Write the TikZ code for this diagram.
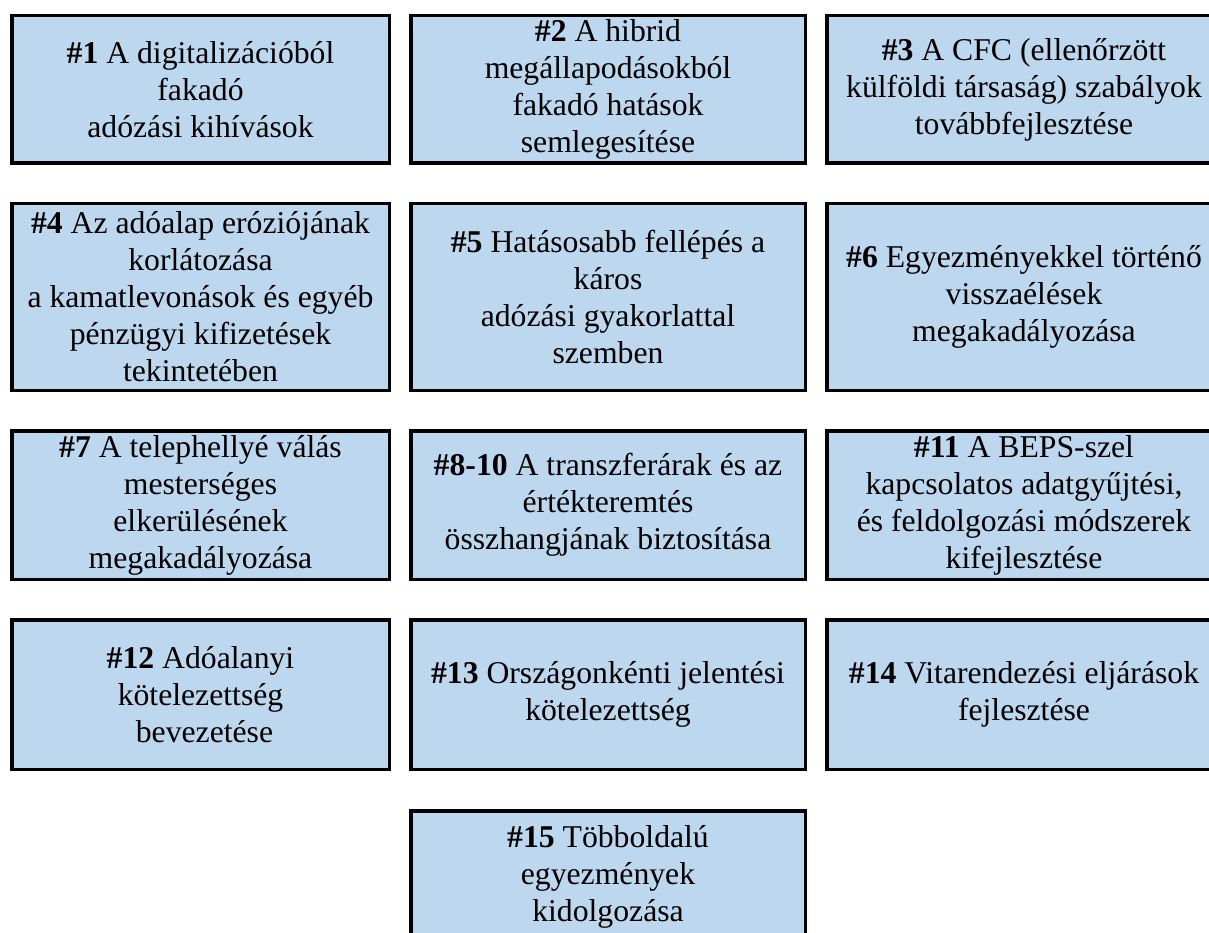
\documentclass[tikz,border=0pt]{standalone}
\usepackage{fontspec}
\setmainfont{Liberation Serif}
\definecolor{boxblue}{RGB}{189,215,238}
\begin{document}
\begin{tikzpicture}[x=1pt,y=-1pt,
  box/.style={draw=black, fill=boxblue, line width=3.5pt, align=center,
    inner sep=0pt, outer sep=0pt,
    font=\fontsize{31.7}{37}\selectfont},
  c1/.style={minimum width=377.5pt},
  c2/.style={minimum width=394.5pt},
  r1/.style={minimum height=147.5pt},
  r2/.style={minimum height=186.5pt},
  r3/.style={minimum height=148.5pt},
  r4/.style={minimum height=149.5pt},
  r5/.style={minimum height=132.5pt}]
\clip (0,0) rectangle (1209,933);
% row 1
\node[box,c1,r1] (b1) at (200.5,89.5) {\textbf{\#1} A digitalizációból\\fakadó\\adózási kihívások};
\node[box,c2,r1] (b2) at (608,89.5) {\textbf{\#2} A hibrid\\megállapodásokból\\fakadó hatások\\semlegesítése};
\node[box,c2,r1] (b3) at (1024,89.5) {\textbf{\#3} A CFC (ellenőrzött\\külföldi társaság) szabályok\\továbbfejlesztése};
% row 2
\node[box,c1,r2] (b4) at (200.5,297) {\textbf{\#4} Az adóalap eróziójának\\korlátozása\\a kamatlevonások és egyéb\\pénzügyi kifizetések\\tekintetében};
\node[box,c2,r2] (b5) at (608,297) {\textbf{\#5} Hatásosabb fellépés a\\káros\\adózási gyakorlattal\\szemben};
\node[box,c2,r2] (b6) at (1024,297) {\textbf{\#6} Egyezményekkel történő\\visszaélések\\megakadályozása};
% row 3
\node[box,c1,r3] (b7) at (200.5,505) {\textbf{\#7} A telephellyé válás\\mesterséges\\elkerülésének\\megakadályozása};
\node[box,c2,r3] (b8) at (608,505) {\textbf{\#8-10} A transzferárak és az\\értékteremtés\\összhangjának biztosítása};
\node[box,c2,r3] (b11) at (1024,505) {\textbf{\#11} A BEPS-szel\\kapcsolatos adatgyűjtési,\\és feldolgozási módszerek\\kifejlesztése};
% row 4
\node[box,c1,r4] (b12) at (200.5,694.5) {\textbf{\#12} Adóalanyi\\kötelezettség\\\hspace*{0.25em}bevezetése};
\node[box,c2,r4] (b13) at (608,694.5) {\textbf{\#13} Országonkénti jelentési\\kötelezettség};
\node[box,c2,r4] (b14) at (1024,694.5) {\textbf{\#14} Vitarendezési eljárások\\fejlesztése};
% row 5
\node[box,c2,r5] (b15) at (608,877) {\textbf{\#15} Többoldalú\\egyezmények\\kidolgozása};
\end{tikzpicture}
\end{document}
